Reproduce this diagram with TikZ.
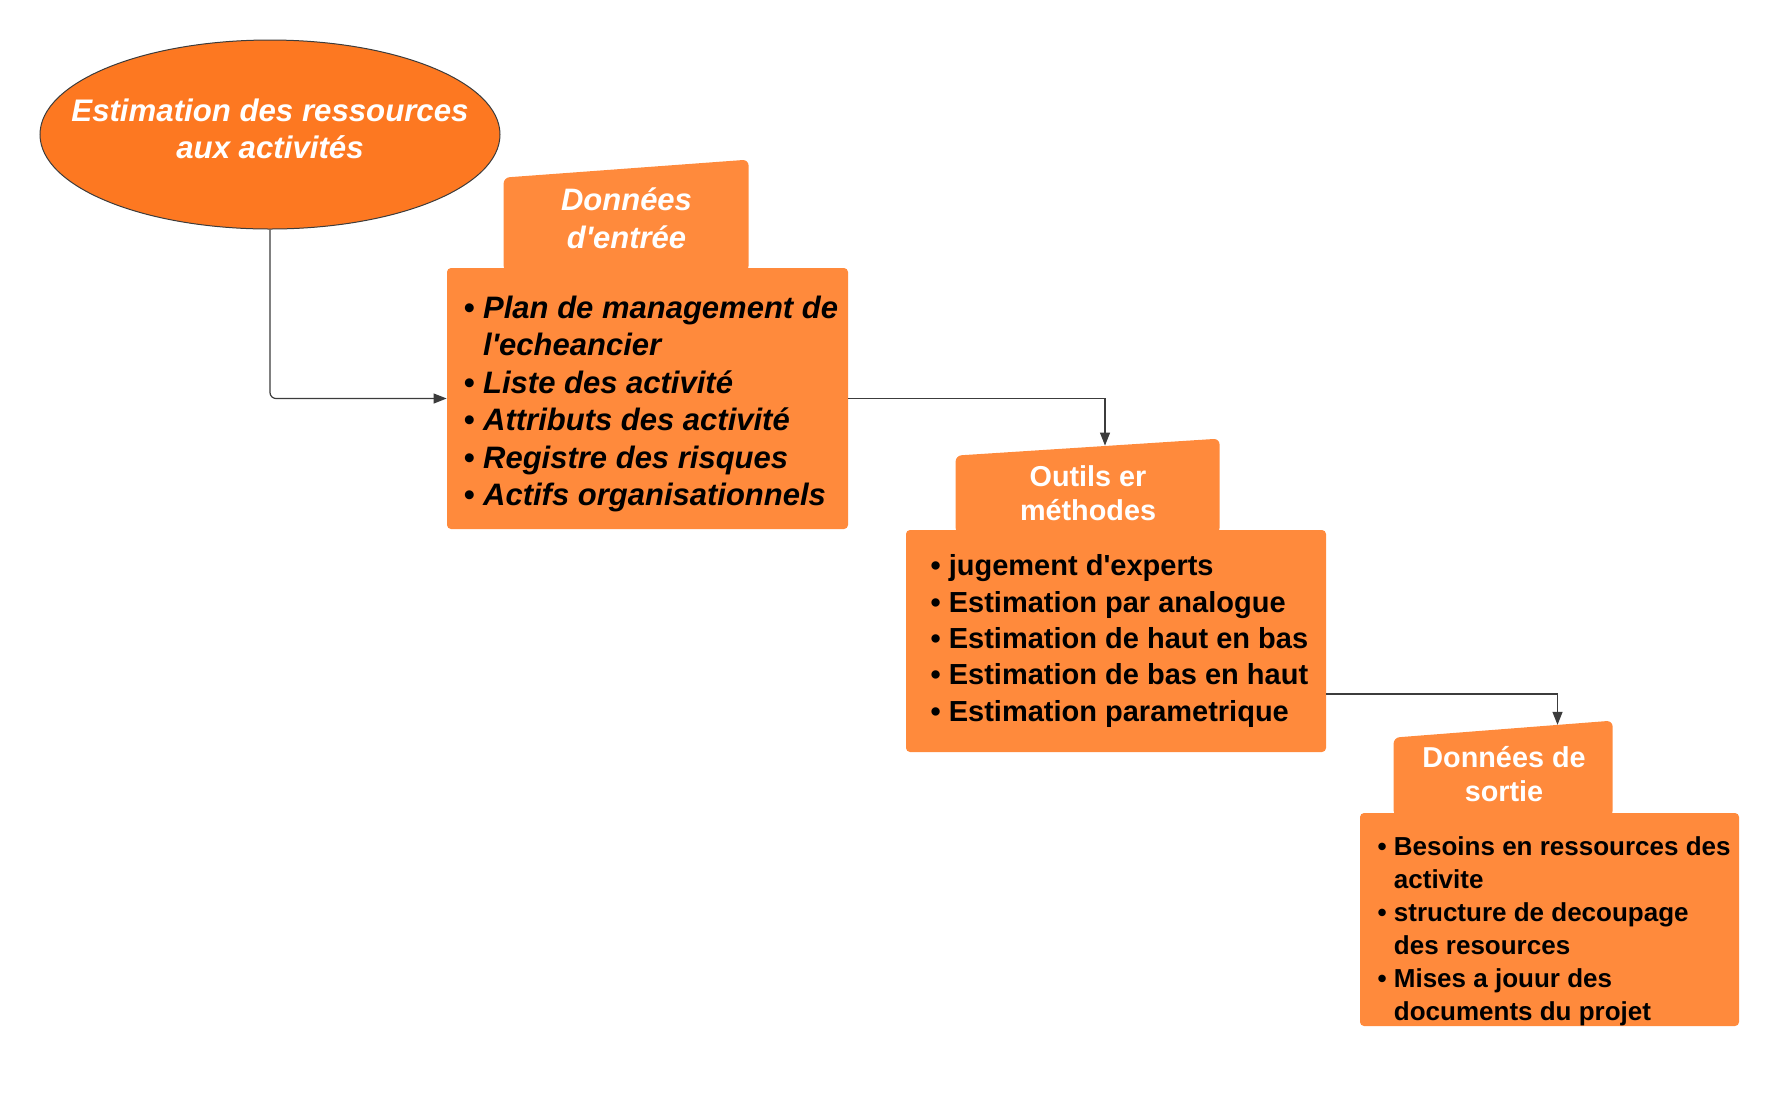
\documentclass[tikz,border=0pt]{standalone}
\usepackage{fontspec}
\setmainfont{Liberation Sans}
\usetikzlibrary{shapes.geometric, arrows.meta, calc, positioning}

\definecolor{estorange}{RGB}{253,120,33}
\definecolor{boxorange}{RGB}{255,138,60}
\definecolor{wire}{RGB}{60,60,60}

\begin{document}
\begin{tikzpicture}[
    x=1pt, y=1pt,
    >={Triangle[length=6.5pt, width=5pt]},
    process/.style={
        draw=wire,
        ellipse,
        fill=estorange,
        line width=0.5pt,
        minimum width=230pt,
        minimum height=94.5pt
    },
    listbox/.style={
        rectangle,
        rounded corners=2pt,
        fill=boxorange,
        inner sep=0pt
    },
    listtext/.style={
        align=left,
        inner sep=0pt
    },
    tabshape/.style={
        fill=boxorange,
        rounded corners=3pt
    },
    tabtext/.style={
        text=white,
        align=center,
        font=\bfseries\fontsize{14.4}{17}\selectfont
    },
    conn/.style={
        draw=wire,
        line width=0.6pt
    }
]
    \useasboundingbox (0,0) rectangle (890,-552.5);

    % Process
    \node [process] (est) at (135,-67.25) {};
    \node [text=white, align=center, font=\bfseries\itshape\fontsize{15.6}{18.75}\selectfont] (estname) at ($(est.center)+(0,2.75)$) {Estimation des ressources\\aux activités};

    % Inputs
    \node [listbox, minimum width=200.5pt, minimum height=130.5pt] (in) at (323.75,-199.25) {};
    \node [listtext, font=\bfseries\itshape\fontsize{15.5}{18.75}\selectfont] (inlist) at ($(in.center)+(1.7,-2.8)$) {%
        \textbullet\ Plan de management de\\
        \phantom{\textbullet\ }l\textquotesingle echeancier\\
        \textbullet\ Liste des activité\\
        \textbullet\ Attributs des activité\\
        \textbullet\ Registre des risques\\
        \textbullet\ Actifs organisationnels};
    \fill [tabshape] ($(in.north west)+(28.5,-2)$) -- ++(0,47) -- ++(122.5,9) -- ++(0,-56) -- cycle;
    \node [tabtext, font=\bfseries\itshape\fontsize{15.5}{18.75}\selectfont] (intab) at ($(in.north)+(-10.5,24.75)$) {Données\\d\textquotesingle entrée};

    % Tools
    \node [listbox, minimum width=210pt, minimum height=111pt] (tools) at (558,-320.5) {};
    \node [listtext, font=\bfseries\fontsize{14.5}{18.15}\selectfont] (toolslist) at ($(tools.center)+(1.7,0)$) {%
        \textbullet\ jugement d\textquotesingle experts\\
        \textbullet\ Estimation par analogue\\
        \textbullet\ Estimation de haut en bas\\
        \textbullet\ Estimation de bas en haut\\
        \textbullet\ Estimation parametrique};
    \fill [tabshape] ($(tools.north west)+(25,-2)$) -- ++(0,39) -- ++(132,8.5) -- ++(0,-47.5) -- cycle;
    \node [tabtext] (toolstab) at ($(tools.north)+(-14,18)$) {Outils er\\méthodes};

    % Outputs
    \node [listbox, minimum width=189.5pt, minimum height=106.5pt] (out) at (774.75,-459.75) {};
    \node [listtext, font=\bfseries\fontsize{13}{16.5}\selectfont] (outlist) at ($(out.center)+(2.3,-5.7)$) {%
        \textbullet\ Besoins en ressources des\\
        \phantom{\textbullet\ }activite\\
        \textbullet\ structure de decoupage\\
        \phantom{\textbullet\ }des resources\\
        \textbullet\ Mises a jouur des\\
        \phantom{\textbullet\ }documents du projet};
    \fill [tabshape] ($(out.north west)+(17,-2)$) -- ++(0,39.5) -- ++(109.5,8.5) -- ++(0,-48) -- cycle;
    \node [tabtext] (outtab) at ($(out.north)+(-22.75,19.5)$) {Données de\\sortie};

    % Connectors
    \coordinate (toolsin) at ($(tools.north)+(-5.5,42)$);
    \coordinate (toolsout) at ($(tools.east)+(0,-26.5)$);
    \coordinate (outin) at ($(out.north)+(4,43.9)$);

    \draw [conn, ->, rounded corners=3pt] (est.south) |- (in.west);
    \draw [conn, ->] (in.east) -| (toolsin);
    \draw [conn, ->] (toolsout) -| (outin);

\end{tikzpicture}
\end{document}
